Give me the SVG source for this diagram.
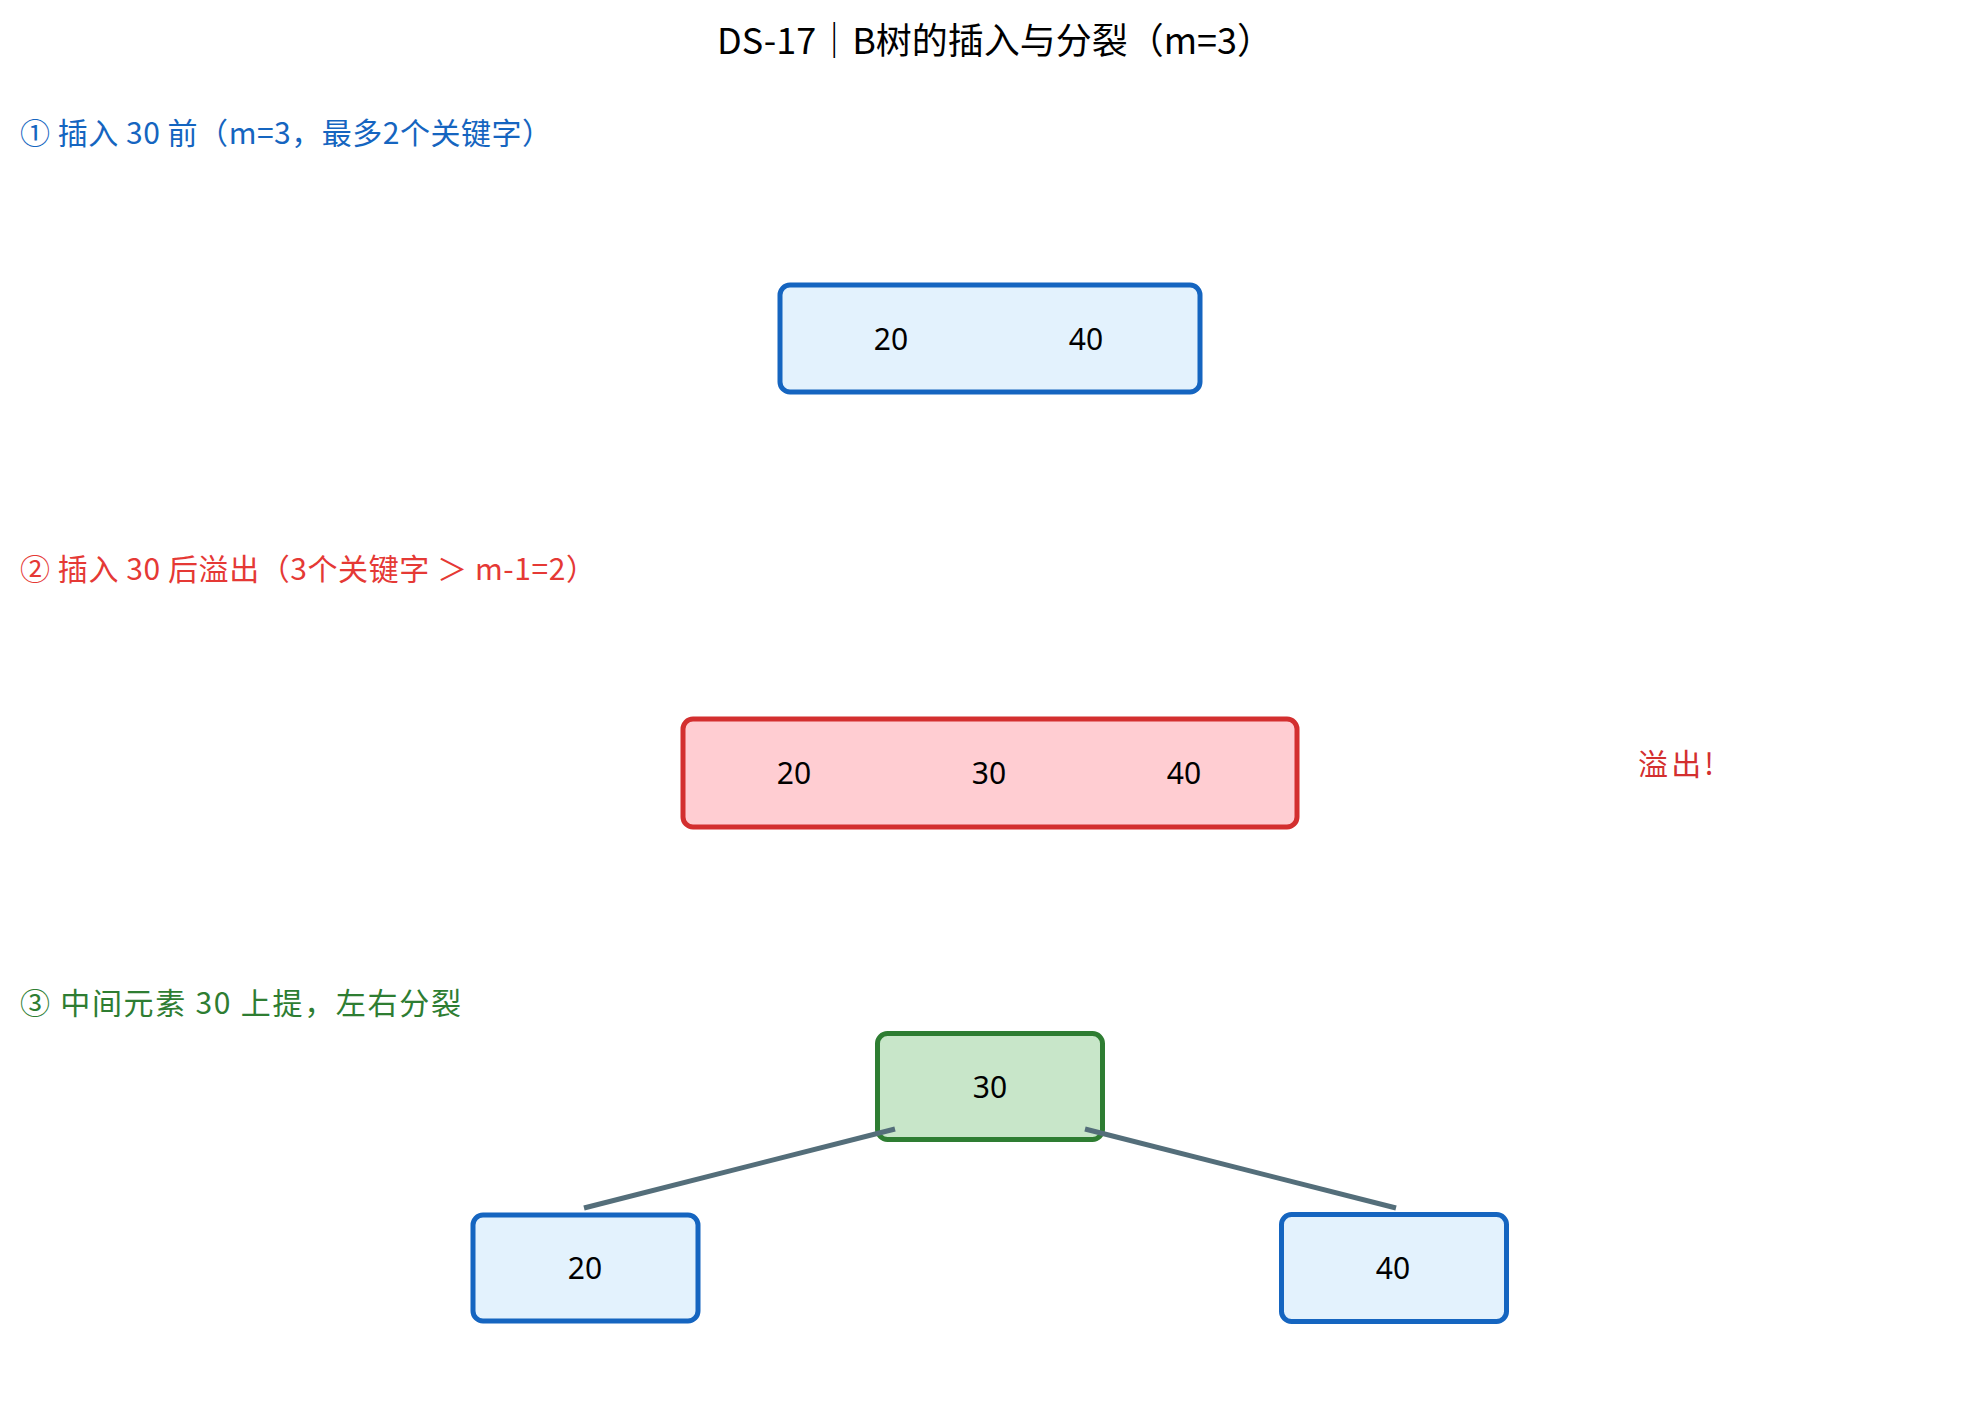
<svg xmlns="http://www.w3.org/2000/svg" width="1979" height="1409" viewBox="0 0 1979 1409">
<style>
.title{font-family:"Noto Sans CJK SC","Noto Sans",sans-serif;font-size:36px;fill:#000;dominant-baseline:central}
.lbl{font-family:"Noto Sans CJK SC","Noto Sans",sans-serif;font-size:30px;dominant-baseline:central}
.key{font-family:"Noto Sans","Noto Sans CJK SC",sans-serif;font-size:30px;fill:#000;text-anchor:middle;dominant-baseline:central}
.blue{fill:#E3F2FD;stroke:#1565C0;stroke-width:5}
.red{fill:#FFCDD2;stroke:#D32F2F;stroke-width:5}
.green{fill:#C8E6C9;stroke:#2E7D32;stroke-width:5}
.edge{stroke:#546E7A;stroke-width:5;fill:none}
</style>
<rect width="1979" height="1409" fill="#fff"/>
<text class="title" x="717" y="38" textLength="556" lengthAdjust="spacing">DS-17｜B树的插入与分裂（m=3）</text>
<text class="lbl" x="20" y="131" fill="#1565C0" textLength="532" lengthAdjust="spacing">① 插入 30 前（m=3，最多2个关键字）</text>
<text class="lbl" x="20" y="567" fill="#E53935" textLength="576" lengthAdjust="spacing">② 插入 30 后溢出（3个关键字 ＞ m-1=2）</text>
<text class="lbl" x="20" y="1001" fill="#2E7D32" textLength="441" lengthAdjust="spacing">③ 中间元素 30 上提，左右分裂</text>
<text class="lbl" x="1638" y="762" fill="#D32F2F" textLength="76" lengthAdjust="spacing">溢出!</text>
<g id="node-before">
<rect class="blue" x="780" y="285" width="420" height="107" rx="10"/>
<text class="key" x="891" y="338">20</text>
<text class="key" x="1086" y="338">40</text>
</g>
<g id="node-overflow">
<rect class="red" x="683" y="719" width="614" height="108" rx="10"/>
<text class="key" x="794" y="772">20</text>
<text class="key" x="989" y="772">30</text>
<text class="key" x="1184" y="772">40</text>
</g>
<g id="node-root">
<rect class="green" x="877.5" y="1033.5" width="225" height="106" rx="10"/>
<text class="key" x="990" y="1086">30</text>
</g>
<g id="node-left">
<rect class="blue" x="473" y="1215" width="225" height="106" rx="10"/>
<text class="key" x="585" y="1267">20</text>
</g>
<g id="node-right">
<rect class="blue" x="1281.5" y="1214.5" width="225" height="107" rx="10"/>
<text class="key" x="1393" y="1267">40</text>
</g>
<g id="connectors">
<line class="edge" x1="895" y1="1129" x2="584" y2="1208"/>
<line class="edge" x1="1085" y1="1129" x2="1396" y2="1208"/>
</g>
</svg>
